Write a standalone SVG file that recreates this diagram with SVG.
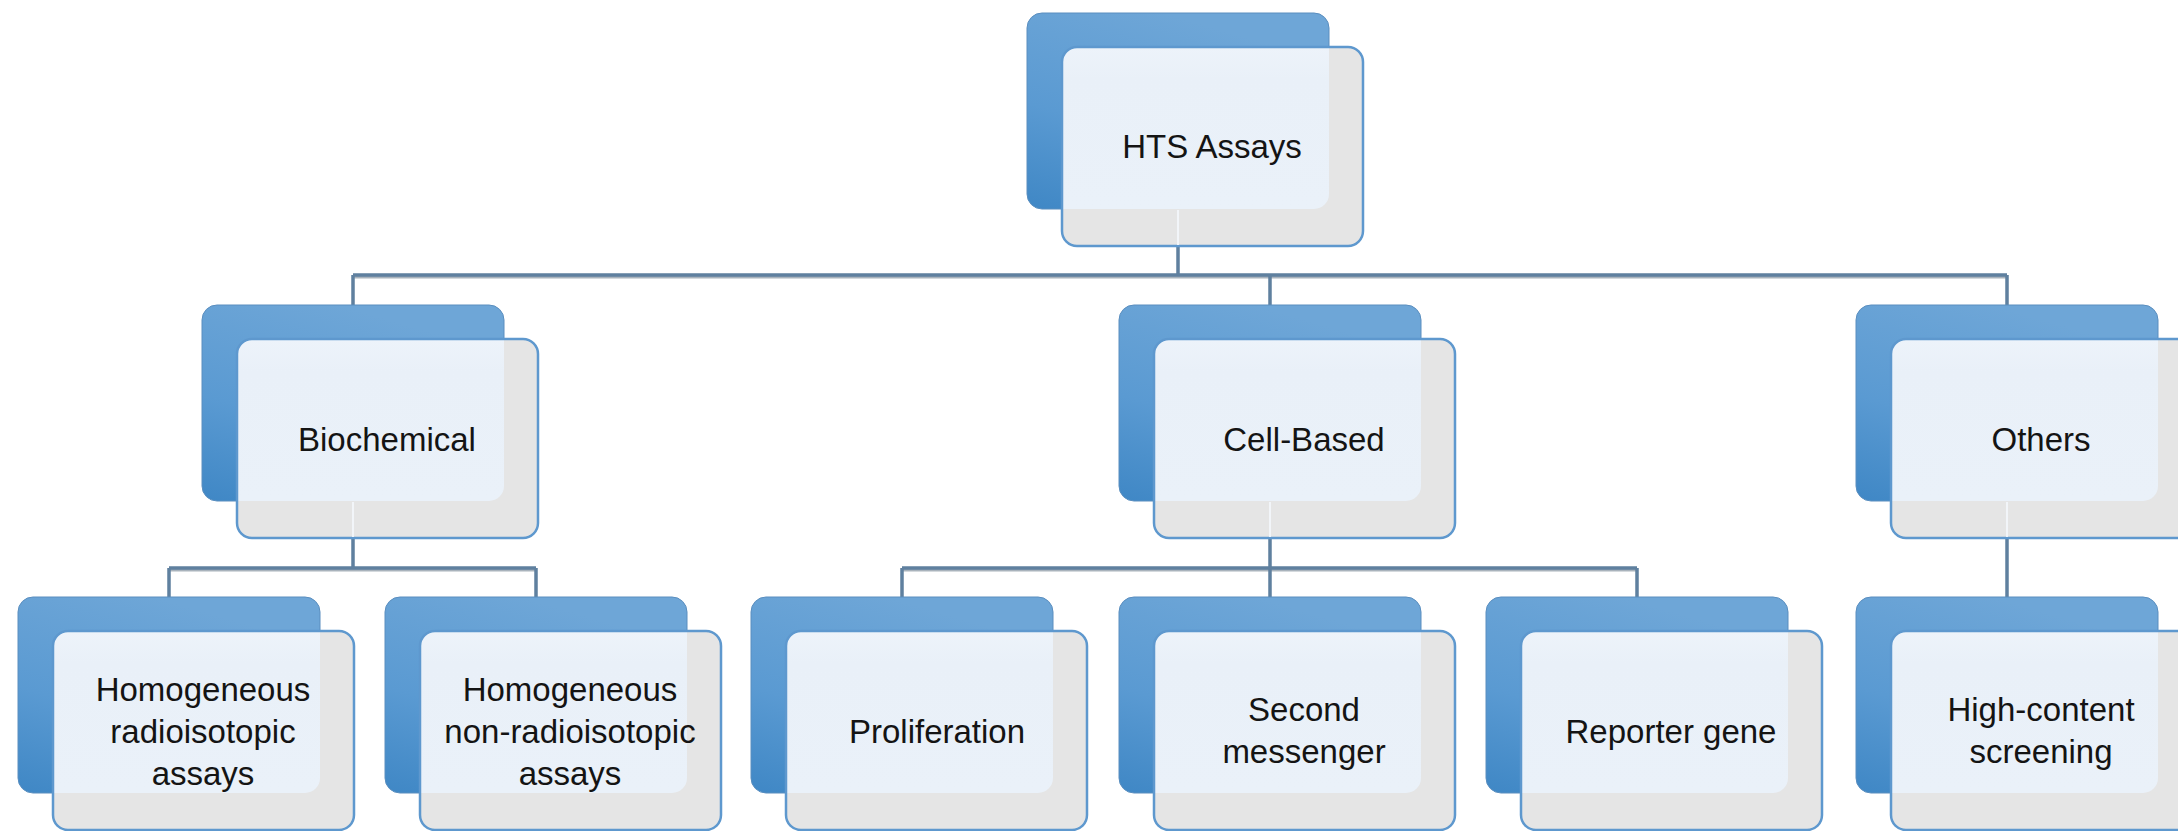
<svg xmlns="http://www.w3.org/2000/svg" xmlns:xlink="http://www.w3.org/1999/xlink" width="2178" height="831" viewBox="0 0 2178 831">
  <style>
    .lbl { font-family: "Liberation Sans", Arial, sans-serif; font-size: 33px; fill: #141414; text-anchor: middle; }
    .conn { fill: none; stroke: #5F809F; stroke-width: 3.5; stroke-linejoin: miter; }
    .conn-shadow { fill: none; stroke: #A9B3BC; stroke-width: 3; }
    .through { stroke: #F2F5F9; stroke-width: 2; }
  </style>
  <defs>
    <linearGradient id="backFill" x1="0.45" y1="0" x2="0" y2="1">
      <stop offset="0" stop-color="#6EA6D7"/>
      <stop offset="0.55" stop-color="#5A9AD2"/>
      <stop offset="1" stop-color="#3F87C5"/>
    </linearGradient>
    <linearGradient id="paneFill" x1="0" y1="0" x2="0" y2="1">
      <stop offset="0" stop-color="#EDF3FA"/>
      <stop offset="0.2" stop-color="#E9F0F8"/>
      <stop offset="1" stop-color="#EAF1F9"/>
    </linearGradient>
    <!-- stacked card: blue back plate + grey front card, light where they overlap -->
    <g id="card">
      <rect x="0" y="0" width="302" height="196" rx="15" ry="15" fill="url(#backFill)" stroke="#5A8EBF" stroke-width="1"/>
      <rect x="35" y="34" width="301" height="199" rx="15" ry="15" fill="#E5E5E5"/>
      <path d="M35,49 A15,15 0 0 1 50,34 H302 V181 A15,15 0 0 1 287,196 H35 Z" fill="url(#paneFill)"/>
      <rect x="35" y="34" width="301" height="199" rx="15" ry="15" fill="none" stroke="#5E98CE" stroke-width="2.5"/>
    </g>
  </defs>

  <rect width="2178" height="831" fill="#FFFFFF"/>

  <g id="connectors">
    <path class="conn-shadow" d="M353,277 H2007 M169,570 H536 M902,570 H1637"/>
    <path class="conn" d="M1178,246 V275 M353,275 H2007 M353,275 V305 M1270,275 V305 M2007,275 V305"/>
    <path class="conn" d="M353,539 V568 M169,568 H536 M169,568 V597 M536,568 V597"/>
    <path class="conn" d="M1270,539 V568 M902,568 H1637 M902,568 V597 M1270,568 V597 M1637,568 V597"/>
    <path class="conn" d="M2007,539 V597"/>
  </g>

  <g id="node-hts">
    <use xlink:href="#card" x="1027" y="13"/>
    <line class="through" x1="1178" y1="210" x2="1178" y2="245"/>
    <text class="lbl" x="1212" y="158">HTS Assays</text>
  </g>

  <g id="node-biochemical">
    <use xlink:href="#card" x="202" y="305"/>
    <line class="through" x1="353" y1="502" x2="353" y2="537"/>
    <text class="lbl" x="387" y="451">Biochemical</text>
  </g>

  <g id="node-cell-based">
    <use xlink:href="#card" x="1119" y="305"/>
    <line class="through" x1="1270" y1="502" x2="1270" y2="537"/>
    <text class="lbl" x="1304" y="451">Cell-Based</text>
  </g>

  <g id="node-others">
    <use xlink:href="#card" x="1856" y="305"/>
    <line class="through" x1="2007" y1="502" x2="2007" y2="537"/>
    <text class="lbl" x="2041" y="451">Others</text>
  </g>

  <g id="node-homogeneous-radio">
    <use xlink:href="#card" x="18" y="597"/>
    <text class="lbl" x="203" y="701">Homogeneous</text>
    <text class="lbl" x="203" y="743">radioisotopic</text>
    <text class="lbl" x="203" y="785">assays</text>
  </g>

  <g id="node-homogeneous-nonradio">
    <use xlink:href="#card" x="385" y="597"/>
    <text class="lbl" x="570" y="701">Homogeneous</text>
    <text class="lbl" x="570" y="743">non-radioisotopic</text>
    <text class="lbl" x="570" y="785">assays</text>
  </g>

  <g id="node-proliferation">
    <use xlink:href="#card" x="751" y="597"/>
    <text class="lbl" x="937" y="743">Proliferation</text>
  </g>

  <g id="node-second-messenger">
    <use xlink:href="#card" x="1119" y="597"/>
    <text class="lbl" x="1304" y="721">Second</text>
    <text class="lbl" x="1304" y="763">messenger</text>
  </g>

  <g id="node-reporter-gene">
    <use xlink:href="#card" x="1486" y="597"/>
    <text class="lbl" x="1671" y="743">Reporter gene</text>
  </g>

  <g id="node-high-content">
    <use xlink:href="#card" x="1856" y="597"/>
    <text class="lbl" x="2041" y="721">High-content</text>
    <text class="lbl" x="2041" y="763">screening</text>
  </g>
</svg>
